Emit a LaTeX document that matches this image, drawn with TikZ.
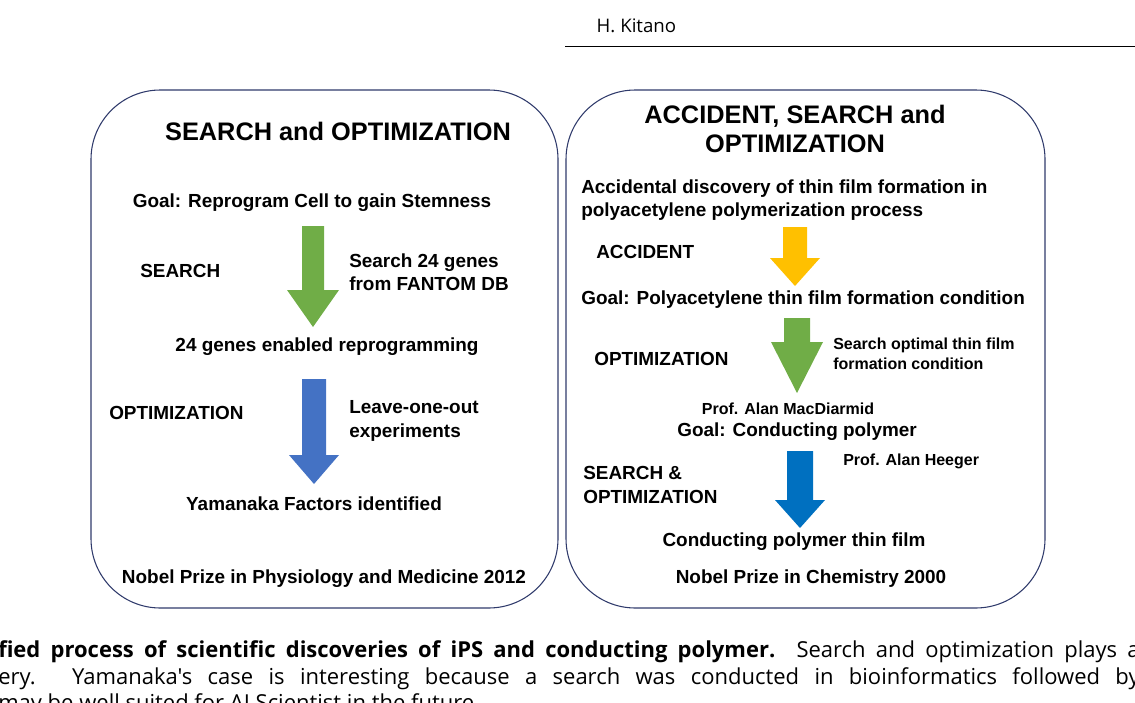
\documentclass[tikz,border=0pt]{standalone}
\usepackage{fontspec}
\setmainfont{Liberation Sans}
\newfontfamily\capfont{Open Sans}
\definecolor{arrgreen}{HTML}{70AD47}
\definecolor{arrblue}{HTML}{4472C4}
\definecolor{arryellow}{HTML}{FFC000}
\definecolor{arrdeep}{HTML}{0070C0}
\definecolor{frame}{HTML}{2F3A6B}
\tikzstyle{title}=[font=\fontsize{19}{22}\selectfont\bfseries,align=center]
\tikzstyle{txt}=[font=\fontsize{14.2}{17.5}\selectfont\bfseries,inner sep=0pt]
\tikzstyle{small}=[font=\fontsize{12}{15}\selectfont\bfseries,inner sep=0pt]
\tikzstyle{panel}=[draw=frame,line width=0.8pt,rounded corners=52pt]
% fat down arrow: x centre, top, head start, tip, shaft half width, head half width
\newcommand{\fatarrow}[7]{%
  \fill[#7] (#1-#5,#2) -- (#1+#5,#2) -- (#1+#5,#3) -- (#1+#6,#3) -- (#1,#4)
    -- (#1-#6,#3) -- (#1-#5,#3) -- cycle;}
\begin{document}
\begin{tikzpicture}[x=0.75pt,y=-0.75pt]
\useasboundingbox (0,0) rectangle (1135,703);

% header
\node[anchor=west,font=\capfont\fontsize{14}{16}\selectfont] (head) at (592,26) {H. Kitano};
\draw[line width=0.6pt] (565,46) -- (1135,46);

% panels
\draw[panel] (91,90) rectangle (558,608);
\draw[panel] (566,90) rectangle (1045,608);

% left panel
\node[title] (ltitle) at (338,131) {SEARCH and OPTIMIZATION};
\node[txt] (goal1) at (312,203) {Goal: Reprogram Cell to gain Stemness};
\fatarrow{313}{226}{290}{327}{11}{26}{arrgreen}
\node[txt,anchor=west] (search1) at (140,271) {SEARCH};
\node[txt,anchor=west,align=left] (fantom) at (349,272) {Search 24 genes\\from FANTOM DB};
\node[txt] (genes) at (327,347) {24 genes enabled reprogramming};
\fatarrow{314}{379}{455}{484}{12}{25}{arrblue}
\node[txt,anchor=west] (opt1) at (109,413) {OPTIMIZATION};
\node[txt,anchor=west,align=left] (loo) at (349,421) {Leave-one-out\\experiments};
\node[txt] (yama) at (314,504) {Yamanaka Factors identified};
\node[txt] (nobel1) at (324,579) {Nobel Prize in Physiology and Medicine 2012};

% right panel
\node[title] (rtitle) at (795,129) {ACCIDENT, SEARCH and\\OPTIMIZATION};
\node[txt,anchor=west,align=left] (accdisc) at (581,200) {Accidental discovery of thin film formation in\\polyacetylene polymerization process};
\fatarrow{795}{227}{258}{286}{12}{25}{arryellow}
\node[txt,anchor=west] (acc) at (596,252) {ACCIDENT};
\node[txt,anchor=west] (goal2) at (581,300) {Goal: Polyacetylene thin film formation condition};
\fatarrow{797}{318}{342}{393}{13}{26}{arrgreen}
\node[txt,anchor=west] (opt2) at (594,359) {OPTIMIZATION};
\node[small,anchor=west,align=left] (optimal) at (833,354) {Search optimal thin film\\formation condition};
\node[small] (macd) at (788,409) {Prof. Alan MacDiarmid};
\node[txt] (goal3) at (797,432) {Goal: Conducting polymer};
\fatarrow{800}{451}{500}{528}{13}{25}{arrdeep}
\node[txt,anchor=west,align=left] (sopt) at (583,485) {SEARCH \&\\OPTIMIZATION};
\node[small,anchor=west] (heeger) at (843,461) {Prof. Alan Heeger};
\node[txt] (film) at (794,542) {Conducting polymer thin film};
\node[txt] (nobel2) at (811,579) {Nobel Prize in Chemistry 2000};

% caption (cut at the page edge)
\begin{scope}
\clip (0,620) rectangle (1135,703);
\begin{scope}[every node/.style={anchor=base west,inner sep=0pt,font=\capfont\fontsize{16.5}{20}\selectfont}]
\node (cap1) at (-2,657) {\makebox[856pt][s]{\textbf{fied process of scientific discoveries of iPS and conducting polymer.} Search and optimization plays a}};
\node (cap2) at (-2,684) {\makebox[856pt][s]{ery. Yamanaka's case is interesting because a search was conducted in bioinformatics followed by}};
\node (cap3) at (-2,710) {may be well suited for AI Scientist in the future.};
\end{scope}
\end{scope}
\end{tikzpicture}
\end{document}
